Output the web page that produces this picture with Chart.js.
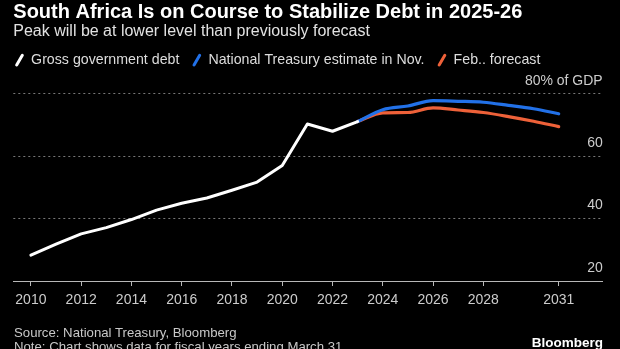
<!DOCTYPE html>
<html>
<head>
<meta charset="utf-8">
<script src="https://cdn.jsdelivr.net/npm/chart.js@4/dist/chart.umd.min.js"></script>
<style>
  html, body { margin: 0; padding: 0; background: #000; }
  #wrap { position: relative; width: 620px; height: 349px; overflow: hidden; background: #000; }
  #c { position: absolute; left: 0; top: 0; }
  .foot { position: absolute; left: 14px; font-family: "Liberation Sans", Arial, sans-serif; font-size: 13.2px; color: #c8c8c8; white-space: nowrap; line-height: 1; }
  #logo { position: absolute; right: 17px; top: 336px; font-family: "Liberation Sans", Arial, sans-serif; font-weight: bold; font-size: 13.5px; color: #fff; line-height: 1; }
</style>
</head>
<body>
<div id="wrap">
  <canvas id="c" width="620" height="349"></canvas>
  <div class="foot" style="top:326px">Source: National Treasury, Bloomberg</div>
  <div class="foot" style="top:340px">Note: Chart shows data for fiscal years ending March 31</div>
  <div id="logo">Bloomberg</div>
</div>
<script>
// ---- data ----
const histYears = [2010, 2011, 2012, 2013, 2014, 2015, 2016, 2017, 2018, 2019, 2020, 2021, 2022, 2023];
const grossDebt = [28.3, 31.8, 35.1, 37.1, 39.7, 42.7, 44.9, 46.6, 49.1, 51.7, 57.0, 70.3, 68.0, 71.1];
const fcYears = [2023, 2024, 2025, 2026, 2027, 2028, 2029, 2030, 2031];
const novEstimate = [71.1, 74.9, 76.1, 77.8, 77.6, 77.3, 76.3, 75.2, 73.6];
const febForecast = [71.1, 73.9, 74.0, 75.5, 74.8, 74.0, 72.7, 71.2, 69.5];
const xTickYears = [2010, 2012, 2014, 2016, 2018, 2020, 2022, 2024, 2026, 2028, 2031];
const yTickValues = [20, 40, 60, 80];
const seriesNames = ['Gross government debt', 'National Treasury estimate in Nov.', 'Feb.. forecast'];
const titleText = 'South Africa Is on Course to Stabilize Debt in 2025-26';
const subtitleText = 'Peak will be at lower level than previously forecast';

const seriesColors = ['#ffffff', '#2271e8', '#ee6139'];
const toXY = (xs, ys) => xs.map((x, i) => ({ x: x, y: ys[i] }));

Chart.defaults.font.family = '"Liberation Sans", Arial, sans-serif';

const legendShift = {
  id: 'legendShift',
  afterLayout(chart) {
    if (chart.legend) { chart.legend.left -= 11.3; }
  }
};

new Chart(document.getElementById('c'), {
  type: 'line',
  data: {
    datasets: [
      { label: seriesNames[0], data: toXY(histYears, grossDebt), borderColor: seriesColors[0], borderWidth: 3, pointRadius: 0, tension: 0, order: 0, borderCapStyle: 'round', borderJoinStyle: 'round' },
      { label: seriesNames[1], data: toXY(fcYears, novEstimate), borderColor: seriesColors[1], borderWidth: 3.2, pointRadius: 0, cubicInterpolationMode: 'monotone', order: 1, borderCapStyle: 'round' },
      { label: seriesNames[2], data: toXY(fcYears, febForecast), borderColor: seriesColors[2], borderWidth: 3.2, pointRadius: 0, cubicInterpolationMode: 'monotone', order: 2, borderCapStyle: 'round' }
    ]
  },
  plugins: [legendShift],
  options: {
    responsive: false,
    animation: false,
    devicePixelRatio: 1,
    layout: { padding: { left: 13.3, right: 17.3, top: 0, bottom: 34.2 } },
    plugins: {
      tooltip: { enabled: false },
      title: {
        display: true, text: titleText, align: 'start', color: '#ffffff',
        font: { size: 20, weight: 'bold' }, padding: { top: 0, bottom: 0 }
      },
      subtitle: {
        display: true, text: subtitleText, align: 'start', color: '#e2e2e2',
        font: { size: 16 }, padding: { top: -2, bottom: -1.2 }
      },
      legend: {
        display: true, align: 'start',
        labels: {
          usePointStyle: true, boxWidth: 9, boxHeight: 8, padding: 13,
          color: '#dddddd', font: { size: 14.2 },
          generateLabels: (chart) => chart.data.datasets.map((ds, i) => ({
            text: ds.label, fillStyle: ds.borderColor, strokeStyle: ds.borderColor,
            fontColor: '#dddddd', lineWidth: 3, pointStyle: 'line', rotation: -60,
            lineCap: 'round', hidden: false, datasetIndex: i
          }))
        }
      }
    },
    scales: {
      x: {
        type: 'linear', position: 'bottom', min: 2009.3, max: 2032.75,
        afterBuildTicks: (s) => { s.ticks = xTickYears.map(v => ({ value: v })); },
        grid: { display: true, drawOnChartArea: false, drawTicks: true, tickLength: 5, color: '#b8b8b8', lineWidth: 1 },
        border: { display: true, color: '#b8b8b8', width: 1 },
        ticks: { color: '#cccccc', font: { size: 14 }, padding: 6, maxRotation: 0, autoSkip: false, callback: (v) => String(v) }
      },
      xTop: {
        type: 'linear', position: 'top', min: 0, max: 1, display: true,
        grid: { display: false, drawTicks: false }, border: { display: false },
        ticks: { display: false },
        afterFit: (s) => { s.height = 16.6; }
      },
      y: {
        type: 'linear', position: 'right', min: 20, max: 80,
        afterBuildTicks: (s) => { s.ticks = yTickValues.map(v => ({ value: v })); },
        grid: { display: true, drawTicks: false, color: '#777777', lineWidth: 1 },
        border: { display: false, dash: [2, 3] },
        ticks: {
          mirror: true, padding: 0, labelOffset: -13, color: '#cccccc', font: { size: 14 },
          callback: (v) => (v === 80 ? '80% of GDP' : String(v))
        }
      }
    }
  }
});
</script>
</body>
</html>
